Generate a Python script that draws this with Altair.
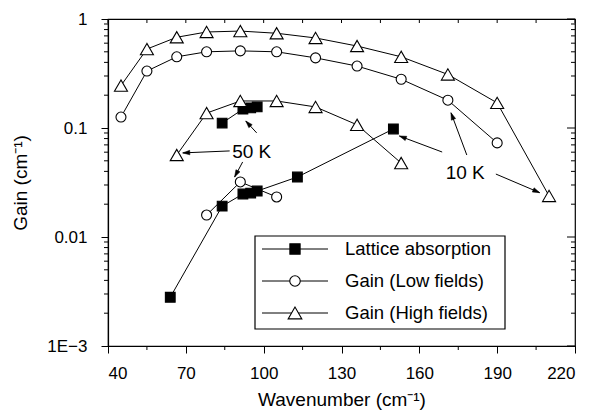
import math
import altair as alt
import pandas as pd

# ---------------- data ----------------
# 10 K, high fields (triangles)
hi10_x = [45, 55, 66.5, 78, 91, 105, 120, 136, 153, 171, 190, 210]
hi10_y = [0.245, 0.53, 0.68, 0.76, 0.775, 0.74, 0.67, 0.565, 0.45, 0.31, 0.17, 0.0238]
# 10 K, low fields (circles)
lo10_x = [45, 55, 66.5, 78, 91, 105, 120, 136, 153, 171, 190]
lo10_y = [0.126, 0.333, 0.45, 0.50, 0.51, 0.50, 0.44, 0.37, 0.28, 0.18, 0.073]
# 50 K, high fields (triangles)
hi50_x = [66.5, 78, 91, 105, 120, 136, 153]
hi50_y = [0.0565, 0.137, 0.177, 0.177, 0.156, 0.107, 0.0477]
# 50 K, low fields (circles)
lo50_x = [78, 91, 105]
lo50_y = [0.0159, 0.032, 0.0233]
# lattice absorption, 50 K (squares)
la50_x = [84, 92, 95, 97.5]
la50_y = [0.111, 0.149, 0.153, 0.156]
# lattice absorption, 10 K (squares)
la10_x = [64, 84, 92, 95, 97.5, 113, 150]
la10_y = [0.0028, 0.0192, 0.0248, 0.0253, 0.0264, 0.0355, 0.098]

series_names = ["Lattice absorption", "Gain (Low fields)", "Gain (High fields)"]

# annotations: label position and arrows (start -> tip)
ann_labels = ["50 K", "10 K"]
ann_x = [95.4, 177.7]
ann_y = [0.060, 0.0388]
arr_x0 = [86.9, 97.3, 91.9, 168.8, 178.3, 189.5]
arr_y0 = [0.0616, 0.0902, 0.0488, 0.0602, 0.0565, 0.0378]
arr_x1 = [68.8, 93.1, 88.8, 152.3, 172.2, 206.4]
arr_y1 = [0.0591, 0.116, 0.0355, 0.0845, 0.138, 0.0255]

x_ticks = [40, 70, 100, 130, 160, 190, 220]
x_minor = [55, 85, 115, 145, 175, 205]
x_top = [40, 55, 70, 85, 100, 115, 130, 145, 160, 175, 190, 205, 220]
y_ticks = [0.001, 0.01, 0.1, 1]
y_tick_labels = ["1E\u22123", "0.01", "0.1", "1"]
y_minor = [m * 10 ** e for e in (-3, -2, -1) for m in range(2, 10)]

# ---------------- build tables ----------------
rows = []
for name, grp, xs, ys in [
    (series_names[2], "hi10", hi10_x, hi10_y),
    (series_names[1], "lo10", lo10_x, lo10_y),
    (series_names[2], "hi50", hi50_x, hi50_y),
    (series_names[1], "lo50", lo50_x, lo50_y),
    (series_names[0], "la50", la50_x, la50_y),
    (series_names[0], "la10", la10_x, la10_y),
]:
    for xv, yv in zip(xs, ys):
        rows.append({"series": name, "group": grp, "x": xv, "y": yv})
df = pd.DataFrame(rows)

W, H = 467, 327
FONT = "Liberation Sans"

def ang(x0, y0, x1, y1):
    dx = (x1 - x0) * W / 180.0
    dy = -(math.log10(y1) - math.log10(y0)) * H / 3.0
    return math.degrees(math.atan2(dx, -dy)) % 360

arr = pd.DataFrame({"x0": arr_x0, "y0": arr_y0, "x1": arr_x1, "y1": arr_y1})
arr["ang"] = [ang(a, b, c, d) for a, b, c, d in zip(arr_x0, arr_y0, arr_x1, arr_y1)]
ann = pd.DataFrame({"label": ann_labels, "x": ann_x, "y": ann_y})

xscale = alt.Scale(domain=[40, 220], nice=False, zero=False)
yscale = alt.Scale(type="log", domain=[0.001, 1], nice=False)

expr = "''"
for v, lab in zip(y_ticks, y_tick_labels):
    expr = f"(abs(datum.value - {v}) < {v}*0.01) ? '{lab}' : " + expr

axis_style = dict(grid=False, domainColor="black", tickColor="black", labelColor="black",
                  titleColor="black", labelFont=FONT, titleFont=FONT, labelFontSize=17,
                  titleFontSize=19, titleFontWeight="normal", domainWidth=1.2,
                  tickWidth=1, tickSize=7)

X = alt.X("x:Q", scale=xscale,
          axis=alt.Axis(values=x_ticks, title="Wavenumber (cm\u207b\u00b9)",
                        labelPadding=12, titlePadding=9, **axis_style))
Y = alt.Y("y:Q", scale=yscale,
          axis=alt.Axis(values=y_ticks, labelExpr=expr, labelPadding=14,
                        title="Gain (cm\u207b\u00b9)", titlePadding=16, **axis_style))

base = alt.Chart(df)
lines = base.mark_line(color="black", strokeWidth=1).encode(
    x=X, y=Y, detail="group:N", order="x:Q")

shape_specs = [
    (series_names[0], "square", "black", 95),
    (series_names[1], "circle", "white", 100),
    (series_names[2], "triangle-up", "white", 170),
]
pts = []
for name, shp, fill, sz in shape_specs:
    pts.append(base.transform_filter(alt.datum.series == name).mark_point(
        shape=shp, filled=True, fill=fill, stroke="black", strokeWidth=1.1,
        size=sz, opacity=1).encode(x=alt.X("x:Q", scale=xscale), y=alt.Y("y:Q", scale=yscale)))

arrows = alt.Chart(arr).mark_rule(color="black", strokeWidth=1).encode(
    x=alt.X("x0:Q", scale=xscale), y=alt.Y("y0:Q", scale=yscale),
    x2="x1:Q", y2="y1:Q")
heads = alt.Chart(arr).mark_point(
    shape="M0,0L-0.32,1L0.32,1Z", filled=True, fill="black", stroke="black",
    strokeWidth=0.5, size=200, opacity=1).encode(
    x=alt.X("x1:Q", scale=xscale), y=alt.Y("y1:Q", scale=yscale),
    angle=alt.Angle("ang:Q", scale=None))
texts = alt.Chart(ann).mark_text(fontSize=19, font=FONT, color="black",
                                 align="center", baseline="middle").encode(
    x=alt.X("x:Q", scale=xscale), y=alt.Y("y:Q", scale=yscale), text="label:N")

# extra ticks (minor and mirrored)
ymin_df = pd.DataFrame({"y": y_minor})
ymaj_df = pd.DataFrame({"y": y_ticks})
xmin_df = pd.DataFrame({"x": x_minor})
xtop_df = pd.DataFrame({"x": x_top})
tk = dict(color="black", strokeWidth=1)
left_minor = alt.Chart(ymin_df).mark_rule(**tk).encode(
    y=alt.Y("y:Q", scale=yscale), x=alt.value(0), x2=alt.value(-4))
right_minor = alt.Chart(ymin_df).mark_rule(**tk).encode(
    y=alt.Y("y:Q", scale=yscale), x=alt.value(W), x2=alt.value(W - 4))
right_major = alt.Chart(ymaj_df).mark_rule(**tk).encode(
    y=alt.Y("y:Q", scale=yscale), x=alt.value(W), x2=alt.value(W - 8))
bottom_minor = alt.Chart(xmin_df).mark_rule(**tk).encode(
    x=alt.X("x:Q", scale=xscale), y=alt.value(H), y2=alt.value(H + 4))
top_ticks = alt.Chart(xtop_df).mark_rule(**tk).encode(
    x=alt.X("x:Q", scale=xscale), y=alt.value(0), y2=alt.value(4))

# legend (drawn in the plot's pixel frame)
leg_layers = []
box = alt.Chart(pd.DataFrame({"a": [0]})).mark_rect(
    fill="white", stroke="black", strokeWidth=1.2).encode(
    x=alt.value(147), x2=alt.value(397), y=alt.value(217), y2=alt.value(310))
leg_layers.append(box)
for i, (name, shp, fill, sz) in enumerate(shape_specs):
    yy = 230 + 32 * i
    one = alt.Chart(pd.DataFrame({"label": [name]}))
    leg_layers.append(one.mark_rule(color="black", strokeWidth=1).encode(
        x=alt.value(154), x2=alt.value(220), y=alt.value(yy)))
    leg_layers.append(one.mark_point(shape=shp, filled=True, fill=fill, stroke="black",
                                     strokeWidth=1.1, size=sz * 1.1, opacity=1).encode(
        x=alt.value(187), y=alt.value(yy)))
    leg_layers.append(one.mark_text(fontSize=18.5, font=FONT, color="black",
                                    align="left", baseline="middle").encode(
        x=alt.value(237), y=alt.value(yy), text="label:N"))

chart = alt.layer(
    lines, *pts, arrows, heads, texts,
    left_minor, right_minor, right_major, bottom_minor, top_ticks,
    *leg_layers,
).properties(
    width=W, height=H,
    autosize=alt.AutoSizeParams(type="none"),
    padding={"left": 100, "top": 11, "right": 8, "bottom": 66},
).configure_view(
    stroke="black", strokeWidth=1.2
)

chart.save("out.html", embed_options={"renderer": "svg", "actions": False})
